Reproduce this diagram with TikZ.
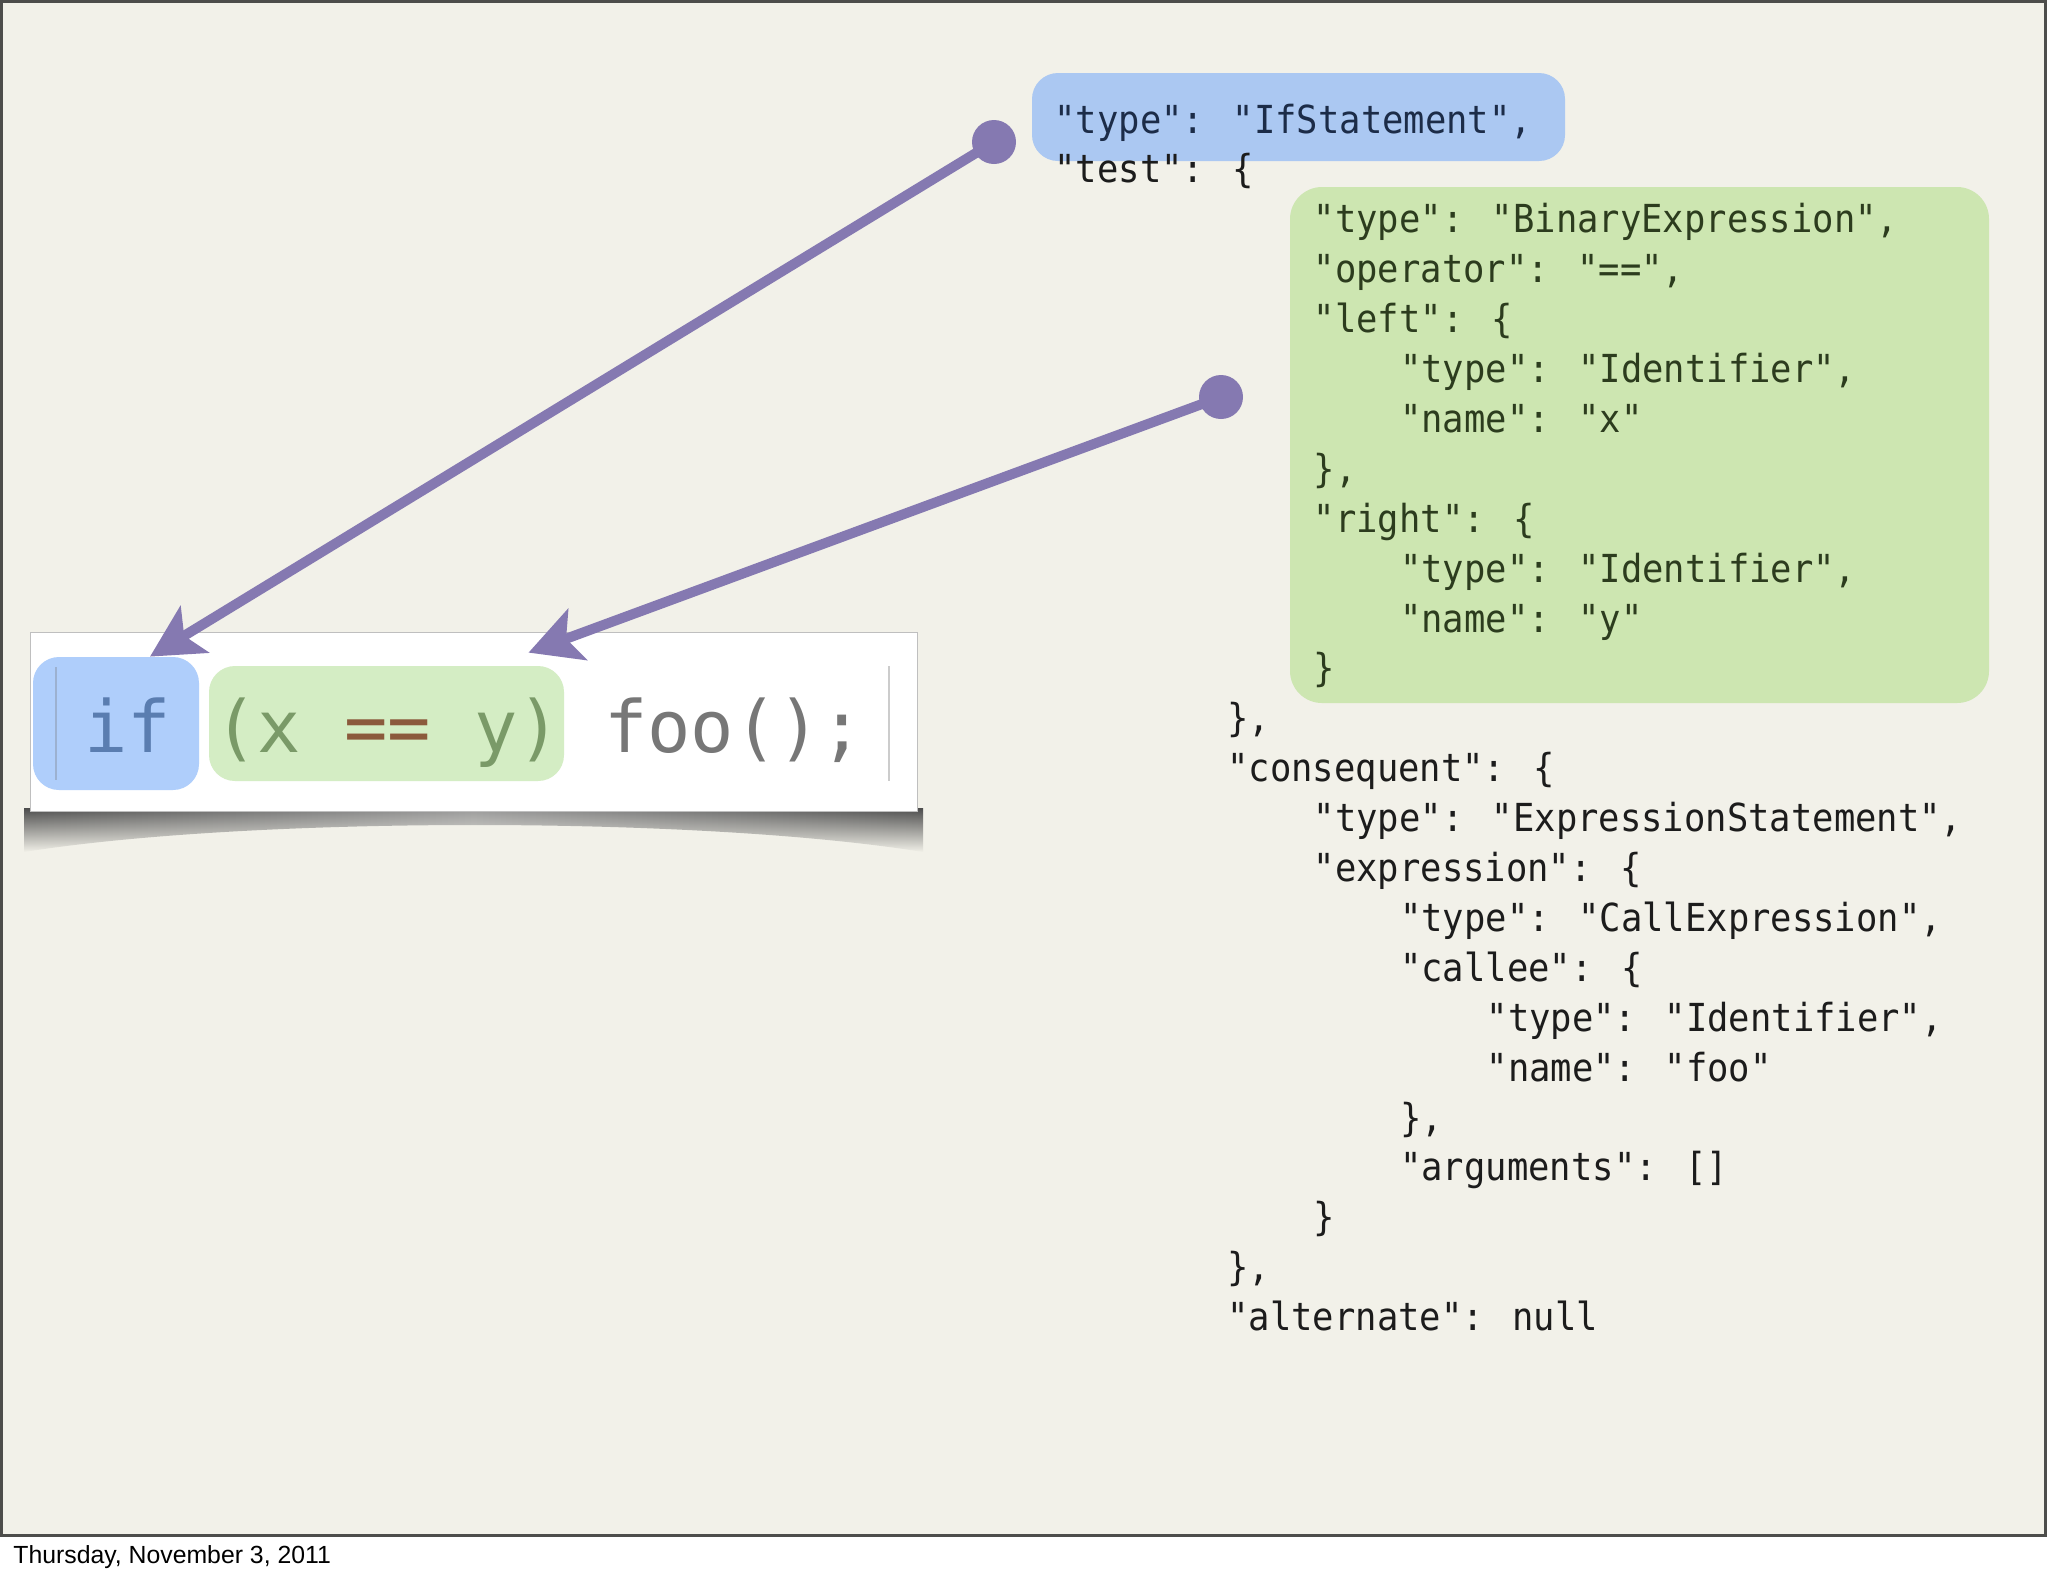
\documentclass[tikz,border=0pt]{standalone}
\usepackage{fontspec}
\usepackage{xcolor}
\usetikzlibrary{arrows.meta,calc,fadings}
\newfontfamily\jsonfont{DejaVu Sans Mono}
\newfontfamily\jsonnarrow[FakeStretch=0.92]{DejaVu Sans Mono}
\newfontfamily\footerfont{Liberation Sans}

\definecolor{slidebg}{HTML}{F2F1E9}
\definecolor{slideframe}{HTML}{4D4D4B}
\definecolor{jsonblue}{HTML}{ABC8F2}
\definecolor{jsongreen}{HTML}{CDE6B1}
\definecolor{bluetext}{HTML}{1C2C48}
\definecolor{greentext}{HTML}{2C3C1E}
\definecolor{plaintext}{HTML}{1C1C1C}
\definecolor{arrowpurple}{HTML}{8579B1}
\definecolor{ifhl}{HTML}{AFCEFB}
\definecolor{condhl}{HTML}{D4EDC4}
\definecolor{codeblue}{HTML}{5A7DB0}
\definecolor{codegreen}{HTML}{7A9A68}
\definecolor{codebrown}{HTML}{8B5A3C}
\definecolor{codegray}{HTML}{777777}

\tikzset{
  jsonline/.style={anchor=base west, inner sep=0pt,
    font=\jsonnarrow\fontsize{19.3pt}{21pt}\selectfont},
  codeword/.style={anchor=base west, inner sep=0pt,
    font=\jsonfont\fontsize{36pt}{40pt}\selectfont},
  hlbox/.style={rectangle, rounded corners=13pt, inner sep=0pt},
  dot/.style={circle, fill=arrowpurple, minimum size=22pt, inner sep=0pt},
  pointer/.style={draw=arrowpurple, line width=5pt,
    -{Stealth[length=26pt,width=27pt,inset=6pt]}},
}

\begin{document}
\begin{tikzpicture}[x=0.5pt, y=-0.5pt]
  \useasboundingbox (0,0) rectangle (2048,1576);
  \fill[white] (0,0) rectangle (2048,1576);
  \fill[slidebg] (0,0) rectangle (2046,1536);
  \draw[slideframe, line width=1.5pt] (1.5,1.5) rectangle (2045,1535);

  % json highlight boxes
  \fill[jsonblue, rounded corners=13pt] (1032,73) rectangle (1565,161);
  \fill[jsongreen, rounded corners=16pt] (1290,187) rectangle (1989,703);

  % json lines: line/indent level/colour/text
  \foreach \k/\lvl/\col/\txt in {
      0/-2/bluetext/{"type": "IfStatement",},
      1/-2/plaintext/{"test": \{},
      2/1/greentext/{"type": "BinaryExpression",},
      3/1/greentext/{"operator": "==",},
      4/1/greentext/{"left": \{},
      5/2/greentext/{"type": "Identifier",},
      6/2/greentext/{"name": "x"},
      7/1/greentext/{\},},
      8/1/greentext/{"right": \{},
      9/2/greentext/{"type": "Identifier",},
      10/2/greentext/{"name": "y"},
      11/1/greentext/{\}},
      12/0/plaintext/{\},},
      13/0/plaintext/{"consequent": \{},
      14/1/plaintext/{"type": "ExpressionStatement",},
      15/1/plaintext/{"expression": \{},
      16/2/plaintext/{"type": "CallExpression",},
      17/2/plaintext/{"callee": \{},
      18/3/plaintext/{"type": "Identifier",},
      19/3/plaintext/{"name": "foo"},
      20/2/plaintext/{\},},
      21/2/plaintext/{"arguments": []},
      22/1/plaintext/{\}},
      23/0/plaintext/{\},},
      24/0/plaintext/{"alternate": null}}
    \node[jsonline, text=\col] (line\k) at ({1227+86.4*\lvl}, {133+49.9*\k}) {\txt};

  % code snippet with its shadow
  \shade[left color=black!70, right color=black!70, middle color=black!40, path fading=south]
    (24,808) -- (923,808) -- (923,852)
    .. controls (700,816) and (250,816) .. (24,852) -- cycle;
  \node[rectangle, fill=white, draw=black!25, line width=0.5pt,
    minimum width=443.5pt, minimum height=89.5pt, inner sep=0pt] (snippet) at (473.5,721.5) {};
  \node[hlbox, fill=ifhl, minimum width=83pt, minimum height=66.5pt] (hlif) at (116,723.5) {};
  \node[hlbox, fill=condhl, minimum width=177.5pt, minimum height=57.5pt] (hlcond) at (386.5,723.5) {};
  \draw[codeblue!60, line width=0.8pt] (56,667) -- (56,780);
  \draw[black!20, line width=0.8pt] (889,666) -- (889,781);
  \foreach \i/\w/\c in {0/if/codeblue, 3/(x/codegreen, 6/==/codebrown, 9/y)/codegreen, 12/foo();/codegray}
    \node[codeword, text=\c] (code\i) at ({84+43.3*\i}, 752) {\w};

  % pointers from the json to the code
  \node[dot] (dotif) at (994,142) {};
  \node[dot] (dotbin) at (1221,397) {};
  \draw[pointer] (dotif.center) -- ([xshift=17pt]hlif.north);
  \draw[pointer] (dotbin.center) -- ([xshift=71pt,yshift=6.5pt]hlcond.north);

  \node[anchor=base west, inner sep=0pt, font=\footerfont\fontsize{12.4pt}{14pt}\selectfont]
    (date) at (13,1563) {Thursday, November 3, 2011};
\end{tikzpicture}
\end{document}
